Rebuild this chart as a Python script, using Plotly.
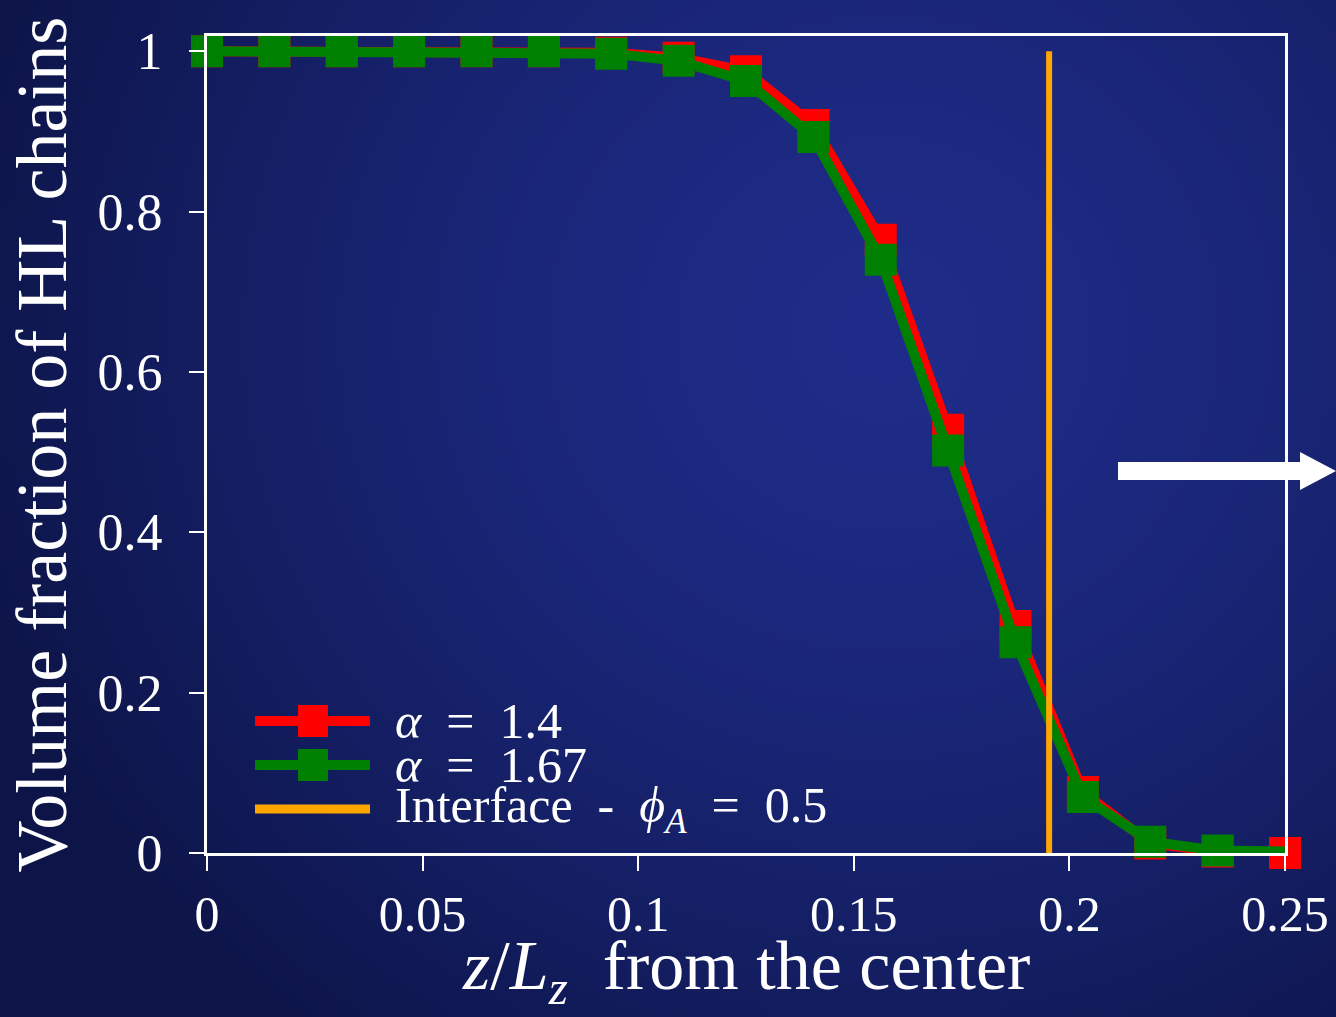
import base64, struct, zlib
import numpy as np
import plotly.graph_objects as go

# ---------------- data ----------------
z = [k / 64 for k in range(17)]
phi_a14 = [1.0, 1.0, 1.0, 1.0, 1.0, 1.0, 0.998, 0.992, 0.975, 0.908, 0.765, 0.528, 0.283, 0.076, 0.012, 0.002, 0.0]
phi_a167 = [1.0, 1.0, 1.0, 1.0, 1.0, 1.0, 0.997, 0.988, 0.963, 0.893, 0.740, 0.502, 0.263, 0.070, 0.014, 0.003, 0.002]
interface_x = [0.1953, 0.1953]
interface_y = [0.0, 1.0]
x_ticks = [0, 0.05, 0.1, 0.15, 0.2, 0.25]
x_ticklabels = ["0", "0.05", "0.1", "0.15", "0.2", "0.25"]
y_ticks = [0, 0.2, 0.4, 0.6, 0.8, 1]
y_ticklabels = ["0", "0.2", "0.4", "0.6", "0.8", "1"]
SP = "\u2002"
legend_labels = ["<i>α</i>" + SP + "=" + SP + "1.4",
                 "<i>α</i>" + SP + "=" + SP + "1.67",
                 "Interface" + SP + "-" + SP + "<i>ϕ<sub>A</sub></i>" + SP + "=" + SP + "0.5"]
x_title = "<i>z</i>/<i>L<sub>z</sub></i>" + SP + "from the center"
y_title = "Volume fraction of HL chains"

# ---------------- style ----------------
W, H = 1336, 1017
L, R, T, B = 207, 1285, 36, 853
RED, GREEN, ORANGE = "#ff0000", "#008000", "#ffa500"
FONT = "Liberation Serif"


def gradient_png(w=167, h=127):
    yy, xx = np.mgrid[0:h, 0:w]
    px = xx * W / w
    py = yy * H / h
    d = np.sqrt(((px - 880) / 1.0) ** 2 + ((py - 330) / 0.95) ** 2)
    f = np.clip(d / 950, 0, 1) ** 1.5
    bright = np.array([31, 44, 137])
    dark = np.array([13, 21, 72])
    img = (bright[None, None, :] * (1 - f[..., None]) + dark[None, None, :] * f[..., None]).astype(np.uint8)
    raw = b"".join(b"\x00" + img[r].tobytes() for r in range(h))

    def chunk(tag, data):
        c = tag + data
        return struct.pack(">I", len(data)) + c + struct.pack(">I", zlib.crc32(c) & 0xffffffff)

    png = b"\x89PNG\r\n\x1a\n" + chunk(b"IHDR", struct.pack(">IIBBBBB", w, h, 8, 2, 0, 0, 0)) \
        + chunk(b"IDAT", zlib.compress(raw, 9)) + chunk(b"IEND", b"")
    return "data:image/png;base64," + base64.b64encode(png).decode()


pw, ph = R - L, B - T


def px2paper(x, y):
    return (x - L) / pw, (B - y) / ph


fig = go.Figure()
fig.add_trace(go.Scatter(x=z, y=phi_a14, mode="lines+markers", cliponaxis=False,
                         line=dict(color=RED, width=10),
                         marker=dict(symbol="square", size=32, color=RED, opacity=1,
                                     line=dict(width=0)), showlegend=False))
fig.add_trace(go.Scatter(x=z, y=phi_a167, mode="lines+markers", cliponaxis=False,
                         line=dict(color=GREEN, width=10),
                         marker=dict(symbol="square", size=[32] * 16 + [0], color=GREEN, opacity=1,
                                     line=dict(width=0)), showlegend=False))
fig.add_trace(go.Scatter(x=interface_x, y=interface_y, mode="lines",
                         line=dict(color=ORANGE, width=6), showlegend=False))

shapes = []
annotations = []
# manual legend
rows = [(RED, True, 721), (GREEN, True, 765), (ORANGE, False, 809)]
for (col, has_marker, py), label in zip(rows, legend_labels):
    x0, y0 = px2paper(255, py)
    x1, _ = px2paper(370, py)
    shapes.append(dict(type="line", xref="paper", yref="paper", x0=x0, x1=x1, y0=y0, y1=y0,
                       line=dict(color=col, width=10 if has_marker else 9), layer="above"))
    if has_marker:
        xa, ya = px2paper(298, py - 16)
        xb, yb = px2paper(328, py + 16)
        shapes.append(dict(type="rect", xref="paper", yref="paper", x0=xa, x1=xb, y0=yb, y1=ya,
                           fillcolor=col, line=dict(width=0), layer="above"))
    tx, ty = px2paper(393, py)
    annotations.append(dict(xref="paper", yref="paper", x=tx, y=ty, xanchor="left", yanchor="middle",
                            text=label, showarrow=False, font=dict(family=FONT, size=50, color="white")))

# x-axis title as an annotation
ax, ay = px2paper(746, 971)
annotations.append(dict(xref="paper", yref="paper", x=ax, y=ay, xanchor="center", yanchor="middle",
                        text=x_title, showarrow=False, font=dict(family=FONT, size=70, color="white")))

# white arrow at right
pts = [(1118, 462), (1300, 462), (1300, 452), (1336, 471), (1300, 490), (1300, 480), (1118, 480)]
path = "M " + " L ".join("%.5f,%.5f" % px2paper(x, y) for x, y in pts) + " Z"
shapes.append(dict(type="path", xref="paper", yref="paper", path=path,
                   fillcolor="white", line=dict(width=0), layer="above"))

fig.update_layout(
    width=W, height=H,
    margin=dict(l=L, r=W - R, t=T, b=H - B, autoexpand=False),
    paper_bgcolor="#17227a", plot_bgcolor="rgba(0,0,0,0)",
    font=dict(family=FONT, color="white"),
    images=[dict(source=gradient_png(), xref="paper", yref="paper",
                 x=-L / pw, y=B / ph,
                 sizex=W / pw, sizey=H / ph, sizing="stretch", xanchor="left", yanchor="top",
                 layer="below")],
    shapes=shapes, annotations=annotations,
    xaxis=dict(range=[0, 0.25], tickvals=x_ticks, ticktext=x_ticklabels,
               showgrid=False, zeroline=False, showline=True, mirror=True,
               linecolor="white", linewidth=3, ticks="outside", ticklen=15, tickwidth=2,
               tickcolor="white", tickfont=dict(family=FONT, size=50, color="white"),
               ticklabelstandoff=0),
    yaxis=dict(range=[0, 1.019], tickvals=y_ticks, ticktext=y_ticklabels,
               showgrid=False, zeroline=False, showline=True, mirror=True,
               linecolor="white", linewidth=3, ticks="outside", ticklen=15, tickwidth=2,
               tickcolor="white", tickfont=dict(family=FONT, size=52, color="white"),
               ticklabelstandoff=16,
               title=dict(text=y_title,
                          font=dict(family=FONT, size=72, color="white"), standoff=8)),
)

fig.write_html("out.html")
